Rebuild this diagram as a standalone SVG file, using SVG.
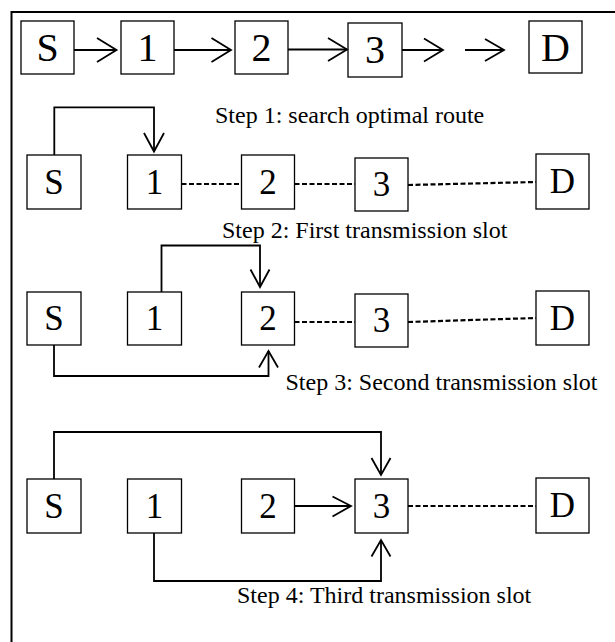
<svg xmlns="http://www.w3.org/2000/svg" width="615" height="642" viewBox="0 0 615 642">
  <style>
    .box { fill: #fff; stroke: #000; stroke-width: 1.3; }
    .lbl { font-family: "Liberation Serif", "Times New Roman", serif; font-size: 35px; text-anchor: middle; fill: #000; }
    .big { font-size: 40px; }
    .cap { font-family: "Liberation Serif", "Times New Roman", serif; font-size: 24px; fill: #000; }
    .ln { fill: none; stroke: #000; stroke-width: 1.8; }
    .dash { fill: none; stroke: #000; stroke-width: 2.2; stroke-dasharray: 5 2.5; }
    .head { fill: none; stroke: #000; stroke-width: 1.8; stroke-linejoin: miter; }
  </style>

  <!-- frame -->
  <path d="M 11.5 642 V 12 H 615" fill="none" stroke="#000" stroke-width="2"/>

  <!-- row 1: route search -->
  <g id="r1-S"><rect class="box" x="21" y="21" width="53" height="53"/><text class="lbl big" x="47.5" y="61">S</text></g>
  <g id="r1-1"><rect class="box" x="121" y="21" width="53" height="53"/><text class="lbl big" x="147.5" y="61">1</text></g>
  <g id="r1-2"><rect class="box" x="235" y="21" width="53" height="53"/><text class="lbl big" x="261.5" y="61">2</text></g>
  <g id="r1-3"><rect class="box" x="348" y="23" width="54" height="54"/><text class="lbl big" x="375" y="63">3</text></g>
  <g id="r1-D"><rect class="box" x="529" y="21" width="53" height="52"/><text class="lbl big" x="555.5" y="60.5">D</text></g>
  <g id="r1-caption"><text class="cap" x="215" y="123">Step 1: search optimal route</text></g>

  <!-- row 2: first slot -->
  <g id="r2-S"><rect class="box" x="27" y="155" width="54" height="54"/><text class="lbl" x="54" y="193.5">S</text></g>
  <g id="r2-1"><rect class="box" x="127.5" y="155" width="54" height="54"/><text class="lbl" x="154.5" y="193.5">1</text></g>
  <g id="r2-2"><rect class="box" x="241.5" y="155" width="53" height="54"/><text class="lbl" x="268" y="193.5">2</text></g>
  <g id="r2-3"><rect class="box" x="355" y="158" width="53" height="53"/><text class="lbl" x="381.5" y="196">3</text></g>
  <g id="r2-D"><rect class="box" x="536" y="154" width="53" height="55"/><text class="lbl" x="562.5" y="193">D</text></g>
  <g id="r2-caption"><text class="cap" x="222" y="238">Step 2: First transmission slot</text></g>

  <!-- row 3: second slot -->
  <g id="r3-S"><rect class="box" x="27" y="292" width="54" height="53"/><text class="lbl" x="54" y="330">S</text></g>
  <g id="r3-1"><rect class="box" x="127.5" y="292" width="54" height="53"/><text class="lbl" x="154.5" y="330">1</text></g>
  <g id="r3-2"><rect class="box" x="241.5" y="292" width="53" height="53"/><text class="lbl" x="268" y="330">2</text></g>
  <g id="r3-3"><rect class="box" x="355" y="294" width="53" height="53"/><text class="lbl" x="381.5" y="332">3</text></g>
  <g id="r3-D"><rect class="box" x="536" y="291" width="53" height="54"/><text class="lbl" x="562.5" y="329.5">D</text></g>
  <g id="r3-caption"><text class="cap" x="285.5" y="390">Step 3: Second transmission slot</text></g>

  <!-- row 4: third slot -->
  <g id="r4-S"><rect class="box" x="27" y="479" width="54" height="54"/><text class="lbl" x="54" y="517.5">S</text></g>
  <g id="r4-1"><rect class="box" x="127.5" y="479" width="54" height="54"/><text class="lbl" x="154.5" y="517.5">1</text></g>
  <g id="r4-2"><rect class="box" x="241.5" y="479" width="53" height="54"/><text class="lbl" x="268" y="517.5">2</text></g>
  <g id="r4-3"><rect class="box" x="355" y="479" width="53" height="54"/><text class="lbl" x="381.5" y="517.5">3</text></g>
  <g id="r4-D"><rect class="box" x="536" y="478" width="53" height="55"/><text class="lbl" x="562.5" y="517">D</text></g>
  <g id="r4-caption"><text class="cap" x="237" y="603">Step 4: Third transmission slot</text></g>

  <g id="connectors">
    <!-- row 1 -->
    <path class="ln" d="M 74 50 H 116.5"/><path class="head" d="M 97 38 L 116.5 50 L 97 62"/>
    <path class="ln" d="M 174 50 H 231"/><path class="head" d="M 211.5 38 L 231 50 L 211.5 62"/>
    <path class="ln" d="M 288 49.5 H 347" stroke-width="2.6"/><path class="head" d="M 328 38 L 347 49.5 L 328 61"/>
    <path class="ln" d="M 402 50 H 443"/><path class="head" d="M 424 38.5 L 443 50 L 424 61.5"/>
    <path class="ln" d="M 465 50 H 504"/><path class="head" d="M 485 39 L 504 50 L 485 61"/>

    <!-- row 2 -->
    <path class="ln" d="M 54.3 155 V 107.3 H 154 V 151.5"/><path class="head" d="M 144 133 L 154 151.5 L 164 133"/>
    <path class="dash" d="M 181.5 184 H 241.5"/>
    <path class="dash" d="M 294.5 184 H 355"/>
    <path class="dash" d="M 408 185 L 536 182"/>

    <!-- row 3 -->
    <path class="ln" d="M 161.5 292 V 245.5 H 260 V 287"/><path class="head" d="M 250.5 269.5 L 260 287 L 269.5 269.5"/>
    <path class="ln" d="M 54 345 V 376 H 268.5 V 351"/><path class="head" d="M 259 367.5 L 268.5 351 L 278 367.5"/>
    <path class="dash" d="M 294.5 322 H 355"/>
    <path class="dash" d="M 408 322 L 536 318"/>

    <!-- row 4 -->
    <path class="ln" d="M 54 479 V 432 H 381 V 475"/><path class="head" d="M 371.5 458 L 381 475 L 390.5 458"/>
    <path class="ln" d="M 154 533 V 581 H 381 V 540"/><path class="head" d="M 371.5 556.5 L 381 540 L 390.5 556.5"/>
    <path class="ln" d="M 294.5 506 H 351"/><path class="head" d="M 332.5 496.5 L 351 506 L 332.5 516.5"/>
    <path class="dash" d="M 408 506 H 536"/>
  </g>
</svg>
